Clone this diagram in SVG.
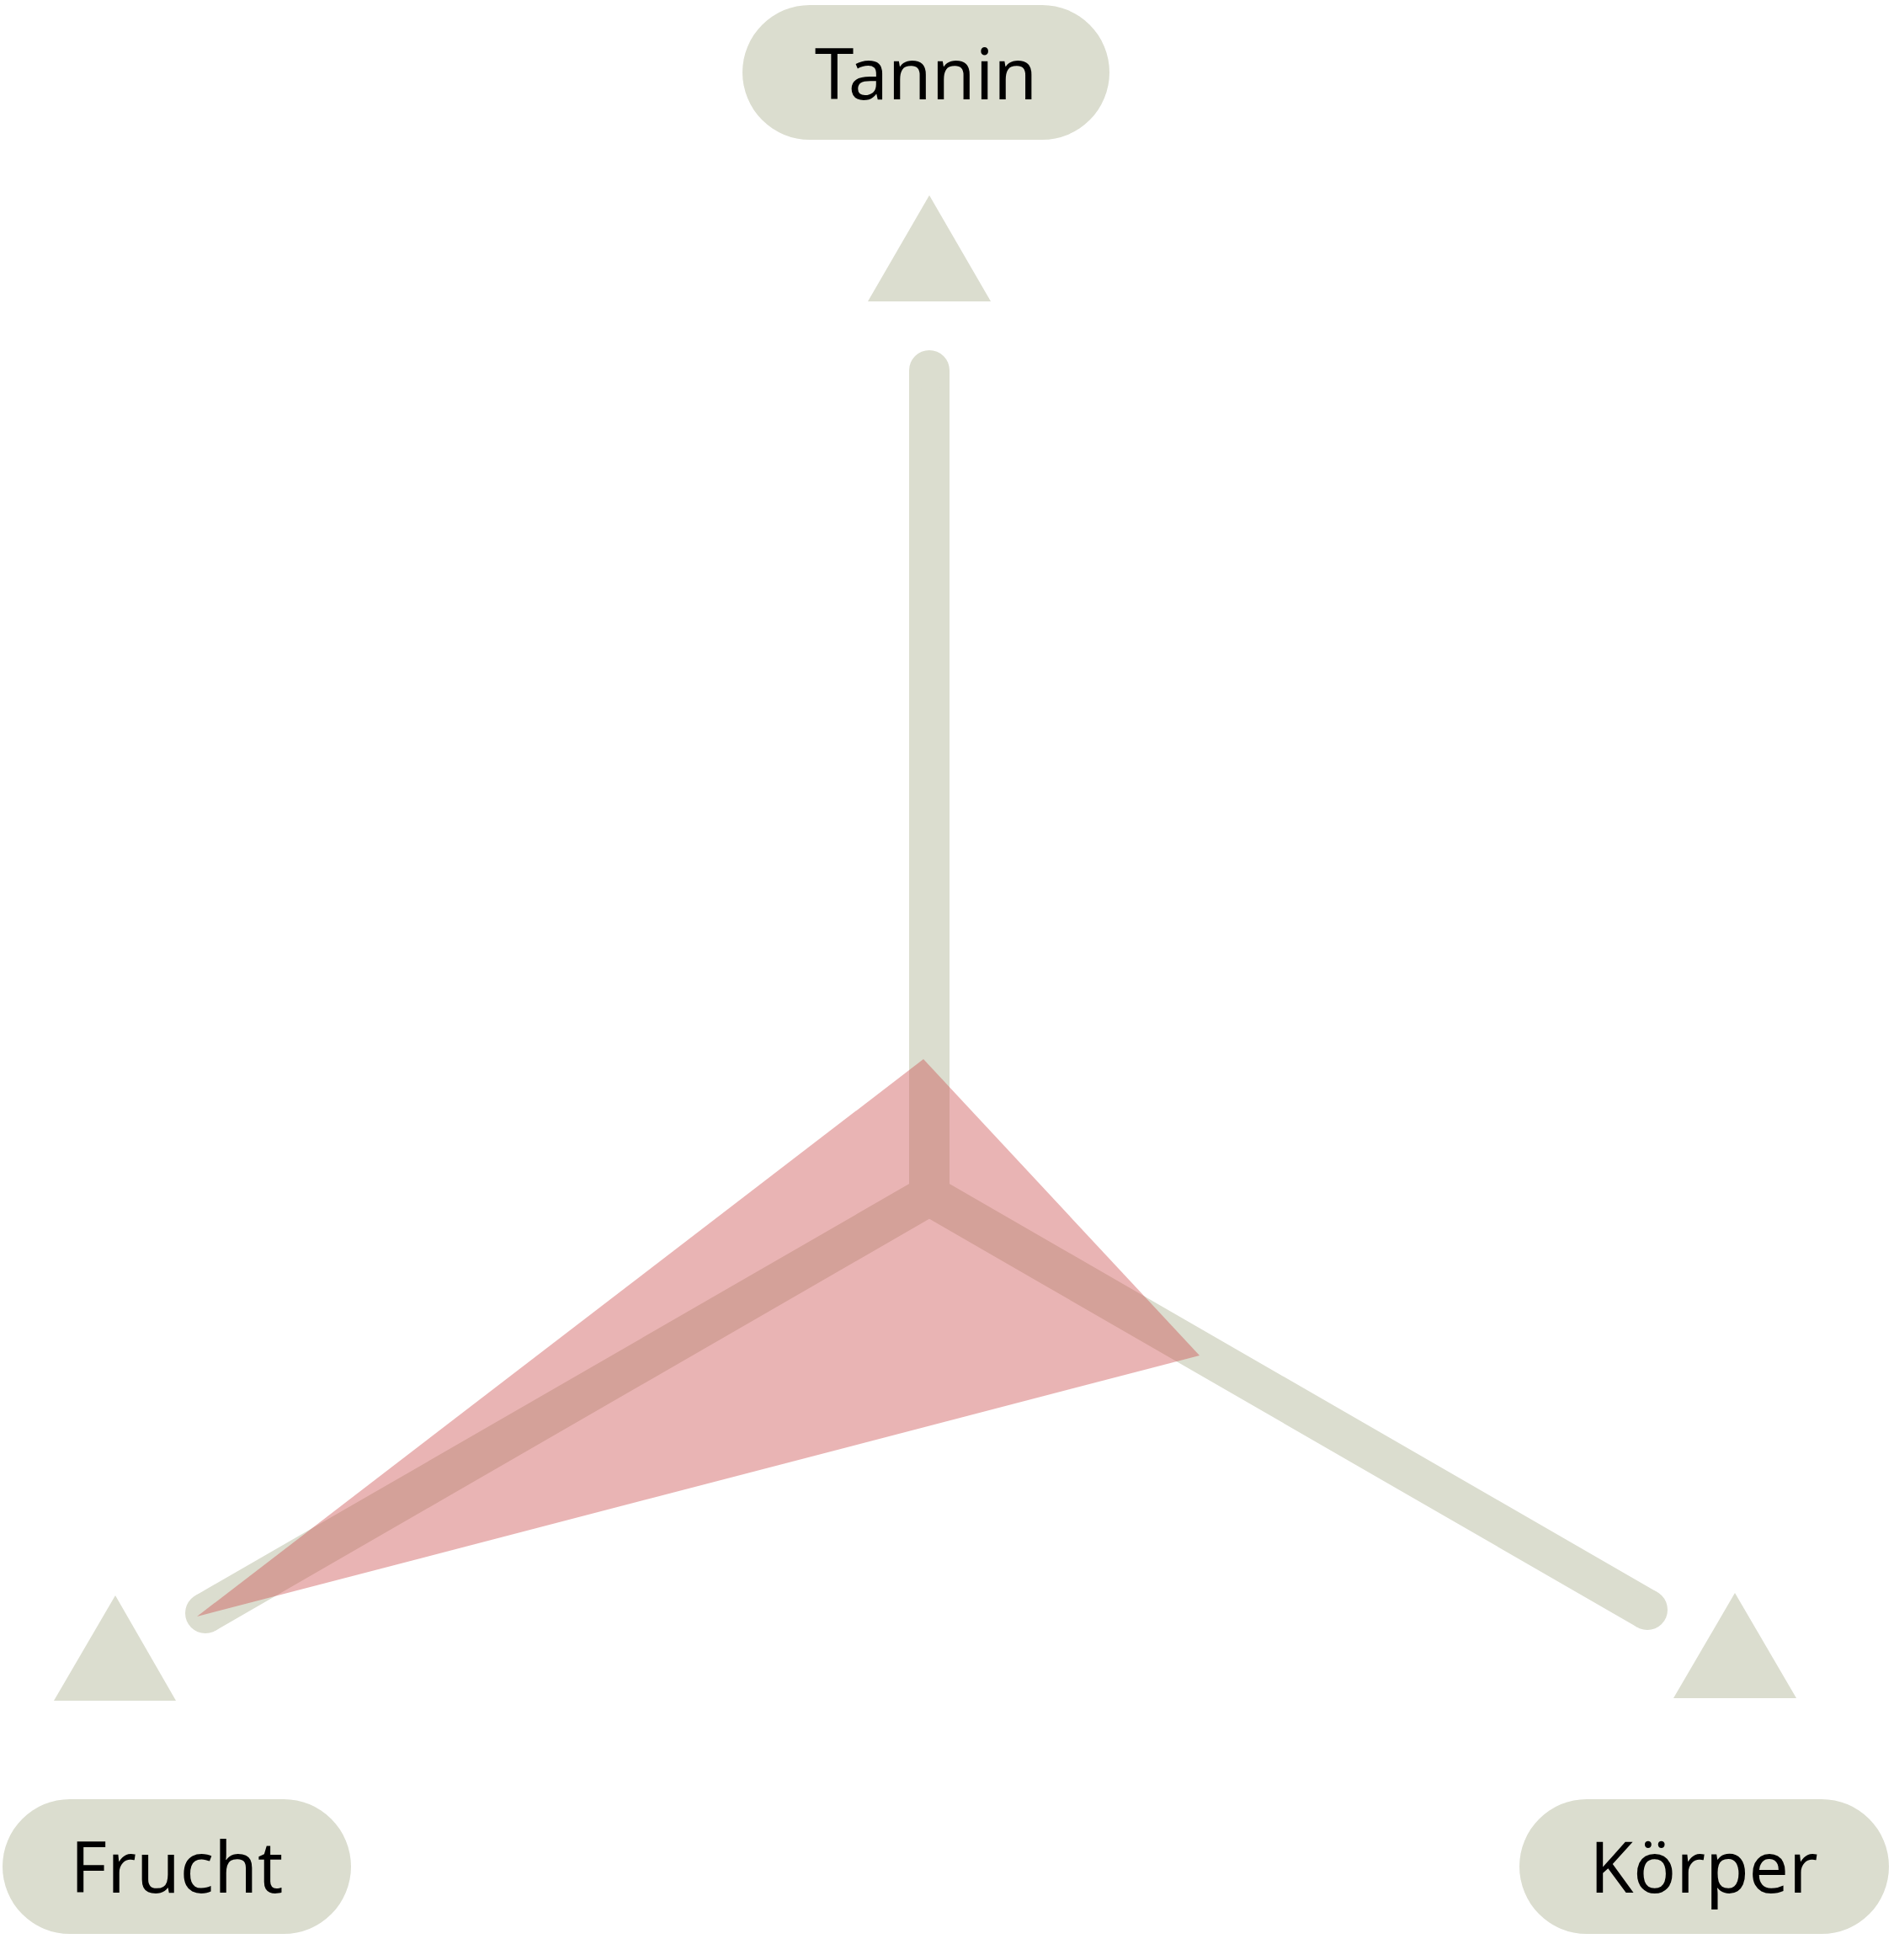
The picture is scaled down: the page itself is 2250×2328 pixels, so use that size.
<svg xmlns="http://www.w3.org/2000/svg" width="2250" height="2328" viewBox="0 0 2250 2328">
<style>
.pill{fill:#dbddcf}
.tri{fill:#dbddcf}
.lbl{font-family:"Noto Sans","Liberation Sans",sans-serif;font-size:84px;fill:#000;text-anchor:middle}
.ax{stroke:#dbddcf;stroke-width:48;fill:none;stroke-linejoin:miter}
</style>
<rect width="2250" height="2328" fill="#fff"/>
<g id="connectors">
<path class="ax" d="M1104,440 L1104,1420 M244,1916 L1104,1420 L1957,1912"/>
<circle cx="1104" cy="440" r="24" fill="#dbddcf"/>
<circle cx="244" cy="1916" r="24" fill="#dbddcf"/>
<circle cx="1957" cy="1912" r="24" fill="#dbddcf"/>
<polygon class="tri" points="1104,232 1177,358 1031,358"/>
<polygon class="tri" points="137,1895 209,2020 64,2020"/>
<polygon class="tri" points="2061,1892 2134,2017 1988,2017"/>
</g>
<g id="data">
<polygon points="1097,1258 1425,1610 234,1920" fill="rgb(204,80,80)" fill-opacity="0.43"/>
</g>
<g id="tannin"><rect class="pill" x="882" y="6" width="436" height="160" rx="80"/><text class="lbl" x="1100" y="118">Tannin</text></g>
<g id="frucht"><rect class="pill" x="3" y="2137" width="414" height="160" rx="80"/><text class="lbl" x="210" y="2248">Frucht</text></g>
<g id="koerper"><rect class="pill" x="1805" y="2137" width="439" height="160" rx="80"/><text class="lbl" x="2024" y="2248">Körper</text></g>
</svg>
